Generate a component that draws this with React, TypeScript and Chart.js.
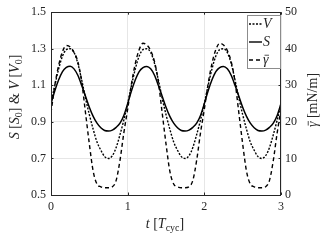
import React, { useEffect, useRef } from "react";
import { Chart, registerables } from "chart.js";
Chart.register(...registerables);

const T = [
  0, 0.05, 0.1, 0.15, 0.2, 0.25, 0.3, 0.35, 0.4, 0.45, 0.5, 0.55, 0.6, 0.65, 0.7, 0.75, 0.8, 0.85, 0.9, 0.95,
  1, 1.05, 1.1, 1.15, 1.2, 1.25, 1.3, 1.35, 1.4, 1.45, 1.5, 1.55, 1.6, 1.65, 1.7, 1.75, 1.8, 1.85, 1.9, 1.95,
  2, 2.05, 2.1, 2.15, 2.2, 2.25, 2.3, 2.35, 2.4, 2.45, 2.5, 2.55, 2.6, 2.65, 2.7, 2.75, 2.8, 2.85, 2.9, 2.95,
  3,
];

const S_VALUES = [
  1.0, 1.07, 1.13, 1.175, 1.198, 1.205, 1.19, 1.155, 1.1, 1.04, 0.98, 0.93, 0.893, 0.868, 0.853, 0.85, 0.855, 0.87, 0.893, 0.935,
  1.0, 1.07, 1.13, 1.175, 1.197, 1.203, 1.19, 1.155, 1.1, 1.04, 0.98, 0.93, 0.893, 0.868, 0.853, 0.85, 0.855, 0.87, 0.893, 0.935,
  1.0, 1.07, 1.13, 1.175, 1.197, 1.203, 1.19, 1.155, 1.1, 1.04, 0.98, 0.93, 0.893, 0.868, 0.853, 0.85, 0.855, 0.87, 0.893, 0.935,
  1.0,
];

const V_VALUES = [
  1.0, 1.1, 1.19, 1.26, 1.295, 1.3, 1.28, 1.22, 1.13, 1.03, 0.94, 0.86, 0.79, 0.745, 0.71, 0.7, 0.715, 0.76, 0.83, 0.91,
  1.0, 1.1, 1.19, 1.26, 1.295, 1.3, 1.28, 1.22, 1.13, 1.03, 0.94, 0.86, 0.79, 0.745, 0.71, 0.7, 0.715, 0.76, 0.83, 0.91,
  1.0, 1.1, 1.19, 1.26, 1.295, 1.3, 1.28, 1.22, 1.13, 1.03, 0.94, 0.86, 0.79, 0.745, 0.71, 0.7, 0.715, 0.76, 0.83, 0.91,
  1.0,
];

const GAMMA_VALUES = [
  22.5, 30, 35.5, 39.25, 40.9, 40.5, 39, 36.5, 31, 22.5, 14, 6.5, 3, 2.25, 2, 2, 2.25, 4, 9.5, 17,
  23.5, 30.5, 36, 39.75, 41.5, 41, 39.5, 36.5, 31, 22.5, 14, 6.5, 3, 2.25, 2, 2, 2.25, 4, 9.5, 17,
  23.5, 30.5, 36, 39.75, 41.5, 41, 39.5, 36.5, 31, 22.5, 14, 6.5, 3, 2.25, 2, 2, 2.25, 4, 9.5, 17,
  23.5,
];

const X_TICKS = [0, 1, 2, 3];
const LEFT_TICKS = [0.5, 0.7, 0.9, 1.1, 1.3, 1.5];
const RIGHT_TICKS = [0, 10, 20, 30, 40, 50];

const FONT = '"Liberation Serif", "Times New Roman", serif';
const INK = "#262626";

type Seg = { t: string; it?: boolean; sub?: boolean; bar?: boolean };

function drawRich(ctx: CanvasRenderingContext2D, segs: Seg[], cx: number, cy: number, rot: number, size: number, align: "center" | "left" = "center") {
  ctx.save();
  ctx.translate(cx, cy);
  ctx.rotate(rot);
  const fontOf = (s: Seg) => `${s.it ? "italic " : ""}${s.sub ? Math.round(size * 0.72) : size}px ${FONT}`;
  let w = 0;
  for (const s of segs) {
    ctx.font = fontOf(s);
    w += ctx.measureText(s.t).width;
  }
  let x = align === "center" ? -w / 2 : 0;
  ctx.textBaseline = "alphabetic";
  ctx.textAlign = "left";
  ctx.fillStyle = INK;
  ctx.strokeStyle = INK;
  for (const s of segs) {
    ctx.font = fontOf(s);
    const y = s.sub ? size * 0.35 + size * 0.22 : size * 0.35;
    ctx.fillText(s.t, x, y);
    const mw = ctx.measureText(s.t).width;
    if (s.bar) {
      ctx.lineWidth = 0.8;
      ctx.beginPath();
      ctx.moveTo(x + 1.5, y - size * 0.62);
      ctx.lineTo(x + mw + 0.5, y - size * 0.62);
      ctx.stroke();
    }
    x += mw;
  }
  ctx.restore();
}

const framePlugin = {
  id: "frameAndText",
  afterDraw(chart: any) {
    const ctx: CanvasRenderingContext2D = chart.ctx;
    const a = chart.chartArea;
    ctx.save();
    ctx.strokeStyle = INK;
    ctx.lineWidth = 1;
    ctx.setLineDash([]);
    ctx.strokeRect(Math.round(a.left) + 0.5, Math.round(a.top) + 0.5, Math.round(a.right - a.left) - 1, Math.round(a.bottom - a.top));
    // inward ticks
    const ys = chart.scales.y;
    const xs = chart.scales.x;
    ctx.beginPath();
    for (const v of LEFT_TICKS) {
      const py = Math.round(ys.getPixelForValue(v)) + 0.5;
      ctx.moveTo(a.left, py);
      ctx.lineTo(a.left + 2.5, py);
      ctx.moveTo(a.right, py);
      ctx.lineTo(a.right - 2.5, py);
    }
    for (const v of X_TICKS) {
      const px = Math.round(xs.getPixelForValue(v)) + 0.5;
      ctx.moveTo(px, a.bottom);
      ctx.lineTo(px, a.bottom - 2.5);
      ctx.moveTo(px, a.top);
      ctx.lineTo(px, a.top + 2.5);
    }
    ctx.stroke();

    // legend
    const lx = 247, ly = 15, lw = 33, lh = 53;
    ctx.fillStyle = "#ffffff";
    ctx.fillRect(lx, ly, lw, lh);
    ctx.strokeStyle = "#8c8c8c";
    ctx.lineWidth = 1;
    ctx.strokeRect(lx + 0.5, ly + 0.5, lw, lh);
    const entries: { dash: number[]; segs: Seg[]; y: number }[] = [
      { dash: [2, 1.5], segs: [{ t: "V", it: true }], y: 24 },
      { dash: [], segs: [{ t: "S", it: true }], y: 42 },
      { dash: [4, 3], segs: [{ t: "γ", it: true, bar: true }], y: 60 },
    ];
    for (const e of entries) {
      ctx.strokeStyle = "#000";
      ctx.lineWidth = 1.4;
      ctx.setLineDash(e.dash);
      ctx.beginPath();
      ctx.moveTo(249, e.y);
      ctx.lineTo(262, e.y);
      ctx.stroke();
      ctx.setLineDash([]);
      drawRich(ctx, e.segs, 263, e.y - 1, 0, 14, "left");
    }
    ctx.restore();

    // axis titles
    drawRich(
      ctx,
      [
        { t: "S", it: true },
        { t: " [" },
        { t: "S", it: true },
        { t: "0", sub: true },
        { t: "] & " },
        { t: "V", it: true },
        { t: " [" },
        { t: "V", it: true },
        { t: "0", sub: true },
        { t: "]" },
      ],
      14,
      97,
      -Math.PI / 2,
      14
    );
    drawRich(
      ctx,
      [{ t: "γ", it: true, bar: true }, { t: " [mN/m]" }],
      312,
      100,
      -Math.PI / 2,
      14
    );
    drawRich(
      ctx,
      [{ t: "t", it: true }, { t: " [" }, { t: "T", it: true }, { t: "cyc", sub: true }, { t: "]" }],
      165,
      223,
      0,
      14
    );
  },
};

export default function App() {
  const ref = useRef<HTMLCanvasElement | null>(null);
  useEffect(() => {
    if (!ref.current) return;
    const mk = (vals: number[]) => T.map((t, i) => ({ x: t, y: vals[i] }));
    const chart = new Chart(ref.current, {
      type: "line",
      data: {
        datasets: [
          {
            label: "V",
            data: mk(V_VALUES),
            yAxisID: "y",
            borderColor: "#000",
            borderWidth: 1.4,
            borderDash: [2, 1.5],
            pointRadius: 0,
            cubicInterpolationMode: "monotone",
          },
          {
            label: "S",
            data: mk(S_VALUES),
            yAxisID: "y",
            borderColor: "#000",
            borderWidth: 1.5,
            pointRadius: 0,
            cubicInterpolationMode: "monotone",
          },
          {
            label: "γ̄",
            data: mk(GAMMA_VALUES),
            yAxisID: "y1",
            borderColor: "#000",
            borderWidth: 1.4,
            borderDash: [4, 3],
            pointRadius: 0,
            cubicInterpolationMode: "monotone",
          },
        ],
      },
      options: {
        animation: false,
        responsive: false,
        devicePixelRatio: 1,
        layout: { padding: { top: 11, left: 0, right: 0, bottom: 0 } },
        plugins: { legend: { display: false }, tooltip: { enabled: false } },
        scales: {
          x: {
            type: "linear",
            min: 0,
            max: 3,
            afterBuildTicks: (s: any) => {
              s.ticks = X_TICKS.map((v) => ({ value: v }));
            },
            afterFit: (s: any) => {
              s.height = 50;
            },
            ticks: {
              color: INK,
              font: { family: FONT, size: 12 },
              padding: 5,
              maxRotation: 0,
              callback: (v: any) => String(v),
            },
            grid: { color: "#e6e6e6", drawTicks: false },
            border: { display: false },
          },
          y: {
            type: "linear",
            position: "left",
            min: 0.5,
            max: 1.5,
            afterBuildTicks: (s: any) => {
              s.ticks = LEFT_TICKS.map((v) => ({ value: v }));
            },
            afterFit: (s: any) => {
              s.width = 51;
            },
            ticks: {
              color: INK,
              font: { family: FONT, size: 12 },
              padding: 5,
              callback: (v: any) => Number(v).toFixed(1),
            },
            grid: { color: "#e6e6e6", drawTicks: false },
            border: { display: false },
          },
          y1: {
            type: "linear",
            position: "right",
            min: 0,
            max: 50,
            afterBuildTicks: (s: any) => {
              s.ticks = RIGHT_TICKS.map((v) => ({ value: v }));
            },
            afterFit: (s: any) => {
              s.width = 46;
            },
            ticks: {
              color: INK,
              font: { family: FONT, size: 12 },
              padding: 4,
              callback: (v: any) => String(v),
            },
            grid: { display: false, drawTicks: false },
            border: { display: false },
          },
        },
      },
      plugins: [framePlugin],
    } as any);
    return () => chart.destroy();
  }, []);
  return (
    <div style={{ position: "fixed", left: 0, top: 0, width: 327, height: 245, background: "#fff" }}>
      <canvas ref={ref} width={327} height={245} />
    </div>
  );
}
